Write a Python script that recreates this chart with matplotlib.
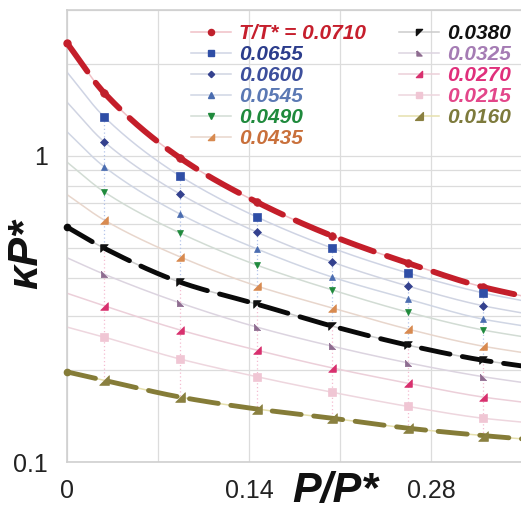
import numpy as np
import matplotlib
matplotlib.use("Agg")
import matplotlib.pyplot as plt
from matplotlib.lines import Line2D
from matplotlib.ticker import FixedLocator, NullFormatter

# reduced pressure (curve end points at 0 and 0.35 included)
p_ratio = [0.0, 0.0285, 0.087, 0.146, 0.204, 0.262, 0.320, 0.35]

t_labels = ["T/T* = 0.0710", "0.0655", "0.0600", "0.0545", "0.0490", "0.0435",
            "0.0380", "0.0325", "0.0270", "0.0215", "0.0160"]

kp_0710 = [2.34, 1.61, 0.985, 0.707, 0.548, 0.447, 0.373, 0.349]
kp_0655 = [1.88, 1.344, 0.860, 0.632, 0.500, 0.415, 0.357, 0.337]
kp_0600 = [1.50, 1.114, 0.751, 0.564, 0.450, 0.376, 0.324, 0.307]
kp_0545 = [1.20, 0.923, 0.646, 0.497, 0.402, 0.341, 0.293, 0.279]
kp_0490 = [0.955, 0.764, 0.560, 0.440, 0.365, 0.309, 0.270, 0.257]
kp_0435 = [0.748, 0.618, 0.468, 0.376, 0.319, 0.272, 0.239, 0.228]
kp_0380 = [0.586, 0.500, 0.387, 0.328, 0.278, 0.241, 0.215, 0.206]
kp_0325 = [0.465, 0.411, 0.331, 0.276, 0.239, 0.211, 0.190, 0.182]
kp_0270 = [0.356, 0.324, 0.270, 0.232, 0.203, 0.181, 0.163, 0.157]
kp_0215 = [0.276, 0.256, 0.217, 0.190, 0.169, 0.152, 0.139, 0.135]
kp_0160 = [0.197, 0.185, 0.163, 0.149, 0.139, 0.129, 0.122, 0.119]

series = [kp_0710, kp_0655, kp_0600, kp_0545, kp_0490, kp_0435,
          kp_0380, kp_0325, kp_0270, kp_0215, kp_0160]

# right-angled triangle markers
tri_lr = [(1, -1), (1, 1), (-1, -1), (1, -1)]
tri_ul = [(-1, 1), (1, 1), (-1, -1), (-1, 1)]
tri_ll = [(-1, 1), (-1, -1), (1, -1), (-1, 1)]

text_colors = ["#c61f2d", "#2c3d8c", "#3d4f9c", "#5b79b4", "#1f8a3c", "#c9703b",
               "#111111", "#a57cb4", "#e0307c", "#e3468a", "#7d7a3c"]
marker_colors = ["#c0202c", "#2f4ea6", "#34418e", "#4a6cb0", "#1f8a3c", "#d88a50",
                 "#111111", "#8e6c90", "#d8306e", "#f0c6d4", "#8a8040"]
curve_colors = ["#f0c0c6", "#cfd4e4", "#d0d4e2", "#d0d6e4", "#d2dcd4", "#e8d6cc",
                "#cccccc", "#dcd4e0", "#eccfd9", "#eed6de", "#e6e0ae"]
markers = ["o", "s", "D", "^", "v", tri_lr, tri_ul, tri_ll, tri_lr, "s", tri_lr]
msizes = [5.5, 5.5, 4.0, 5.0, 5.0, 5.5, 5.5, 4.5, 5.5, 5.5, 7.0]

# thick dashed curves for the highest, middle and lowest temperature
bold_curves = {0: ("#c41e2a", 4.2, (6, 2.4)),
               6: ("#0a0a0a", 3.5, (6, 2.6)),
               10: ("#857c38", 3.5, (6, 2.6))}


def pchip(x, y, xs):
    x = np.asarray(x, float)
    y = np.asarray(y, float)
    h = np.diff(x)
    d = np.diff(y) / h
    m = np.zeros_like(y)
    for k in range(1, len(x) - 1):
        if d[k - 1] * d[k] > 0:
            w1 = 2 * h[k] + h[k - 1]
            w2 = h[k] + 2 * h[k - 1]
            m[k] = (w1 + w2) / (w1 / d[k - 1] + w2 / d[k])
    m[0] = d[0]
    m[-1] = d[-1]
    i = np.clip(np.searchsorted(x, xs, side="right") - 1, 0, len(h) - 1)
    t = (xs - x[i]) / h[i]
    h00 = 2 * t**3 - 3 * t**2 + 1
    h10 = t**3 - 2 * t**2 + t
    h01 = -2 * t**3 + 3 * t**2
    h11 = t**3 - t**2
    return h00 * y[i] + h10 * h[i] * m[i] + h01 * y[i + 1] + h11 * h[i] * m[i + 1]


plt.rcParams["font.family"] = ["Liberation Sans", "DejaVu Sans"]

fig = plt.figure(figsize=(5.21, 5.13), dpi=100)
ax = fig.add_axes([67 / 521, 1 - 462 / 513, 1 - 67 / 521 + 0.002, (462 - 10) / 513])

ax.set_yscale("log")
ax.set_xlim(0, 0.35)
ax.set_ylim(0.1, 3.0)

xs = np.linspace(p_ratio[0], p_ratio[-1], 300)
px = np.array(p_ratio)

# thin smooth curves
for k, ys in enumerate(series):
    yy = np.exp(pchip(px, np.log(ys), xs))
    ax.plot(xs, yy, color=curve_colors[k], lw=1.1, zorder=2)

# vertical dotted guides through each pressure column
for j in range(1, 7):
    ax.plot([p_ratio[j]] * 2, [kp_0655[j], kp_0380[j]], ls=(0, (1, 2)),
            color="#b4c4ea", lw=0.9, zorder=2)
    ax.plot([p_ratio[j]] * 2, [kp_0380[j], kp_0160[j]], ls=(0, (1, 2)),
            color="#f4bcd0", lw=0.9, zorder=2)

# thick dashed curves
for k, (col, lw, dash) in bold_curves.items():
    yy = np.exp(pchip(px, np.log(series[k]), xs))
    ax.plot(xs, yy, color=col, lw=lw, ls=(0, dash), zorder=4,
            dash_capstyle="round")
    ax.plot(p_ratio[0], series[k][0], "o", color=col, ms=5 if k == 0 else 4.5,
            zorder=5, clip_on=False)

# markers at the computed pressures
for k, ys in enumerate(series):
    ax.plot(p_ratio[1:7], ys[1:7], ls="none", marker=markers[k],
            ms=msizes[k], color=marker_colors[k], mec=marker_colors[k],
            mew=0.5, zorder=6)

# grid and ticks
ax.xaxis.set_major_locator(FixedLocator([0, 0.14, 0.28]))
ax.xaxis.set_minor_locator(FixedLocator([0.07, 0.21]))
ax.set_xticklabels(["0", "0.14", "0.28"])
ax.yaxis.set_major_locator(FixedLocator([0.1, 1.0]))
ax.yaxis.set_minor_locator(FixedLocator([0.2, 0.3, 0.4, 0.5, 0.6, 0.7, 0.8, 0.9, 2, 3]))
ax.yaxis.set_minor_formatter(NullFormatter())
ax.set_yticklabels(["0.1", "1"])
ax.grid(True, which="both", color="#dcdcdc", lw=0.9, zorder=0)
ax.set_axisbelow(True)
ax.tick_params(which="both", length=0)
ax.tick_params(axis="x", labelsize=18, pad=12, colors="#222222")
ax.tick_params(axis="y", labelsize=18, pad=14, colors="#222222")
for s in ["left", "bottom", "top"]:
    ax.spines[s].set_color("#cfcfcf")
    ax.spines[s].set_linewidth(1.2)
ax.spines["right"].set_visible(False)

fig.text(335 / 521, 1 - 491 / 513, "P/P*", fontsize=31, fontweight="bold",
         fontstyle="italic", ha="center", va="center", color="#111111")
fig.text(26 / 521, 1 - 254 / 513, "κP*", fontsize=31, fontweight="bold",
         fontstyle="italic", ha="center", va="center", rotation=90,
         color="#111111")

# legend
handles = [Line2D([0], [0], color=curve_colors[k], lw=1.1, marker=markers[k],
                  ms=msizes[k] * 0.8, mfc=marker_colors[k], mec=marker_colors[k])
           for k in range(len(series))]
leg = ax.legend(handles, t_labels, ncol=2, frameon=False, loc="upper left",
                bbox_to_anchor=(191 / 521, 1 - 24 / 513),
                bbox_transform=fig.transFigure,
                prop={"weight": "bold", "style": "italic", "size": 15},
                handlelength=1.9, handletextpad=0.4, labelspacing=0.1,
                columnspacing=1.6, borderaxespad=0, borderpad=0)
for txt, col in zip(leg.get_texts(), text_colors):
    txt.set_color(col)

fig.savefig("out.png", dpi=100)
